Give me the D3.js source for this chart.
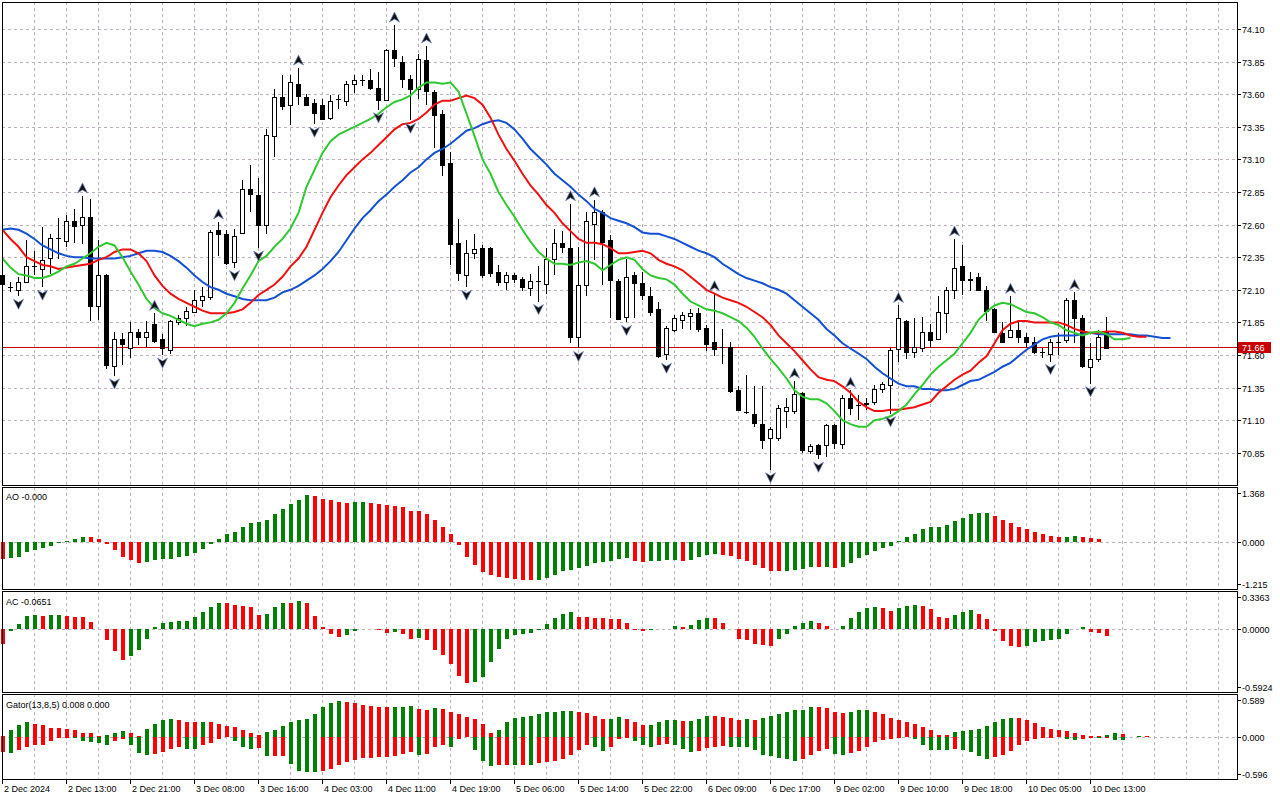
<!DOCTYPE html>
<html>
<head>
<meta charset="utf-8">
<script src="https://cdn.jsdelivr.net/npm/d3@7"></script>
<style>
body { margin:0; background:#fff; }
text { font-family: "Liberation Sans", Arial, sans-serif; font-size: 9px; fill: #000; }
</style>
</head>
<body>
<div id="chart"></div>
<script>
// hourly candles, 2 Dec 2024 .. 10 Dec 2024
const timeLabels = ["2 Dec 2024","2 Dec 13:00","2 Dec 21:00","3 Dec 08:00","3 Dec 16:00","4 Dec 03:00",
  "4 Dec 11:00","4 Dec 19:00","5 Dec 06:00","5 Dec 14:00","5 Dec 22:00","6 Dec 09:00","6 Dec 17:00",
  "9 Dec 02:00","9 Dec 10:00","9 Dec 18:00","10 Dec 05:00","10 Dec 13:00"]
const priceTicks = [74.10,73.85,73.60,73.35,73.10,72.85,72.60,72.35,72.10,71.85,71.60,71.35,71.10,70.85]
const aoTicks = [1.368, 0, -1.215]
const acTicks = [0.3363, 0, -0.5924]
const gatorTicks = [0.589, 0, -0.596]
const lastPrice = 71.66
const paneTitles = ["AO -0.000", "AC -0.0651", "Gator(13,8,5) 0.008 0.000"]

const openP = [72.21,72.12,72.10,72.16,72.28,72.26,72.35,72.50,72.48,72.63,
 72.60,72.66,71.97,72.21,71.51,71.72,71.66,71.78,71.74,71.84,
 71.72,71.64,71.85,71.89,71.93,72.02,72.04,72.56,72.53,72.31,
 72.53,72.87,72.83,72.60,73.28,73.58,73.51,73.68,73.58,73.53,
 73.52,73.42,73.56,73.55,73.68,73.71,73.71,73.65,73.56,73.94,
 73.85,73.72,73.64,73.86,73.62,73.45,73.07,72.46,72.21,72.38,
 72.42,72.42,72.24,72.16,72.21,72.18,72.12,72.17,72.15,72.34,
 72.46,72.42,71.74,72.14,72.61,72.70,72.48,72.17,71.89,72.21,
 72.15,72.05,71.95,71.61,71.79,71.87,71.90,71.92,71.81,71.70,
 71.66,71.66,71.33,71.16,71.15,71.07,70.96,70.96,71.17,71.17,
 71.31,70.86,70.91,70.91,71.06,70.92,71.27,71.22,71.23,71.24,
 71.34,71.37,71.64,71.86,71.62,71.66,71.78,71.72,71.92,72.10,
 72.28,72.17,72.20,72.10,71.95,71.77,71.74,71.79,71.74,71.70,
 71.62,71.61,71.70,71.71,72.02,71.88,71.51,71.57,71.78]
const highP = [72.23,72.16,72.20,72.48,72.40,72.58,72.53,72.65,72.67,72.72,
 72.82,72.80,72.48,72.22,71.78,71.77,71.85,71.80,71.86,71.92,
 71.76,71.87,71.91,71.97,72.10,72.12,72.56,72.62,72.56,72.57,
 72.94,73.06,72.96,73.33,73.64,73.75,73.75,73.80,73.60,73.56,
 73.56,73.59,73.59,73.70,73.75,73.75,73.79,73.77,73.95,74.13,
 73.89,73.75,73.91,73.97,73.63,73.48,73.16,72.64,72.48,72.53,
 72.44,72.43,72.29,72.24,72.23,72.20,72.22,72.28,72.42,72.57,
 72.55,72.76,72.43,72.70,72.79,72.71,72.52,72.18,72.34,72.24,
 72.24,72.12,72.01,71.82,71.91,71.93,71.95,71.96,71.83,72.07,
 71.80,71.70,71.36,71.45,71.36,71.36,71.05,71.22,71.27,71.40,
 71.32,70.92,70.92,71.07,71.07,71.29,71.33,71.29,71.27,71.37,
 71.39,71.65,71.98,71.87,71.88,71.89,71.84,72.05,72.12,72.49,
 72.44,72.24,72.23,72.13,71.96,71.85,72.05,71.85,71.77,71.74,
 71.65,71.72,71.77,72.04,72.08,71.91,71.69,71.79,71.89]
const lowP = [72.10,72.08,72.05,72.15,72.21,72.12,72.22,72.34,72.43,72.46,
 72.45,71.86,71.87,71.49,71.44,71.52,71.58,71.68,71.66,71.69,
 71.60,71.61,71.83,71.82,71.92,71.97,72.02,72.36,72.29,72.27,
 72.53,72.70,72.42,72.53,73.12,73.48,73.36,73.52,73.51,73.37,
 73.41,73.40,73.49,73.51,73.61,73.66,73.63,73.48,73.55,73.81,
 73.65,73.40,73.56,73.52,73.19,72.97,72.29,72.17,72.12,72.34,
 72.19,72.20,72.13,72.10,72.15,72.09,72.05,72.01,72.07,72.21,
 72.38,71.69,71.65,72.05,72.33,72.14,71.88,71.87,71.85,71.88,
 72.02,71.90,71.58,71.56,71.78,71.80,71.79,71.78,71.63,71.59,
 71.53,71.31,71.17,71.15,71.05,70.88,70.72,70.94,71.04,71.15,
 70.85,70.84,70.80,70.82,70.88,70.88,71.14,71.10,71.18,71.22,
 71.31,71.15,71.55,71.57,71.58,71.62,71.65,71.72,71.77,72.03,
 72.06,72.09,72.10,71.86,71.77,71.69,71.74,71.69,71.66,71.61,
 71.58,71.55,71.60,71.69,71.69,71.50,71.38,71.55,71.66]
const closeP = [72.14,72.12,72.16,72.28,72.28,72.33,72.50,72.50,72.63,72.59,
 72.66,71.98,72.21,71.52,71.72,71.68,71.78,71.74,71.78,71.71,
 71.65,71.86,71.88,71.94,72.02,72.05,72.54,72.53,72.31,72.51,
 72.87,72.83,72.60,73.29,73.58,73.51,73.69,73.59,73.52,73.45,
 73.41,73.55,73.56,73.68,73.71,73.71,73.65,73.56,73.94,73.88,
 73.72,73.64,73.87,73.62,73.44,73.06,72.45,72.23,72.38,72.41,
 72.21,72.23,72.16,72.21,72.18,72.12,72.17,72.17,72.34,72.46,
 72.43,71.74,72.14,72.63,72.70,72.47,72.17,71.88,72.20,72.15,
 72.06,71.93,71.59,71.81,71.88,71.91,71.92,71.80,71.69,71.65,
 71.66,71.32,71.18,71.16,71.08,70.95,71.03,71.19,71.20,71.30,
 70.87,70.90,70.84,71.06,70.92,71.27,71.19,71.22,71.22,71.34,
 71.38,71.64,71.88,71.62,71.66,71.78,71.72,71.93,72.10,72.27,
 72.17,72.18,72.10,71.94,71.77,71.70,71.79,71.74,71.70,71.62,
 71.62,71.70,71.70,72.02,71.88,71.51,71.57,71.74,71.66]

// Alligator (jaw shifted 8, teeth 5, lips 3 bars ahead)
const jaw = [72.56,72.57,72.56,72.53,72.49,72.44,72.41,72.38,72.36,72.35,
 72.35,72.34,72.34,72.34,72.34,72.35,72.36,72.38,72.40,72.40,
 72.39,72.36,72.32,72.27,72.21,72.16,72.12,72.10,72.07,72.05,
 72.03,72.02,72.02,72.02,72.04,72.08,72.10,72.13,72.17,72.21,
 72.26,72.32,72.39,72.48,72.57,72.65,72.71,72.78,72.83,72.89,
 72.94,73.00,73.04,73.10,73.15,73.18,73.22,73.27,73.32,73.34,
 73.37,73.39,73.40,73.38,73.33,73.26,73.18,73.12,73.06,72.99,
 72.94,72.89,72.83,72.78,72.72,72.69,72.65,72.63,72.61,72.58,
 72.54,72.53,72.53,72.51,72.49,72.46,72.43,72.40,72.38,72.35,
 72.30,72.26,72.22,72.19,72.17,72.15,72.12,72.10,72.07,72.02,
 71.97,71.92,71.87,71.80,71.75,71.69,71.65,71.61,71.57,71.51,
 71.46,71.42,71.38,71.36,71.36,71.34,71.34,71.33,71.33,71.34,
 71.37,71.40,71.41,71.44,71.47,71.51,71.54,71.59,71.64,71.68,
 71.72,71.74,71.75,71.75,71.75,71.76,71.77,71.76,71.76,71.76,
 71.76,71.76,71.75,71.75,71.74,71.73,71.73]
const teeth = [72.56,72.49,72.43,72.35,72.32,72.29,72.28,72.26,72.27,72.28,
 72.29,72.30,72.33,72.35,72.39,72.41,72.41,72.38,72.32,72.21,
 72.13,72.07,72.03,72.00,71.97,71.94,71.92,71.92,71.92,71.93,
 71.95,72.00,72.06,72.10,72.14,72.20,72.28,72.34,72.43,72.56,
 72.69,72.81,72.90,72.98,73.04,73.10,73.15,73.21,73.27,73.33,
 73.37,73.38,73.41,73.46,73.52,73.55,73.55,73.57,73.59,73.57,
 73.52,73.42,73.29,73.18,73.09,72.99,72.90,72.83,72.75,72.69,
 72.61,72.55,72.49,72.46,72.46,72.45,72.42,72.38,72.38,72.39,
 72.40,72.38,72.33,72.30,72.28,72.25,72.20,72.15,72.10,72.07,
 72.04,72.02,72.00,71.97,71.93,71.89,71.83,71.75,71.69,71.63,
 71.56,71.49,71.43,71.41,71.40,71.36,71.31,71.24,71.20,71.17,
 71.17,71.18,71.18,71.19,71.20,71.22,71.24,71.31,71.36,71.41,
 71.45,71.48,71.54,71.59,71.69,71.79,71.84,71.86,71.86,71.85,
 71.85,71.85,71.85,71.83,71.80,71.78,71.77,71.77,71.78,71.78,
 71.77,71.75,71.74,71.74]
const lips = [72.34,72.27,72.22,72.21,72.19,72.19,72.21,72.24,72.28,72.30,
 72.34,72.38,72.43,72.46,72.44,72.35,72.24,72.14,72.03,71.96,
 71.92,71.90,71.87,71.84,71.82,71.84,71.85,71.87,71.92,72.00,
 72.11,72.21,72.32,72.36,72.43,72.49,72.57,72.69,72.89,73.02,
 73.15,73.24,73.29,73.32,73.35,73.38,73.41,73.45,73.50,73.54,
 73.56,73.59,73.65,73.69,73.69,73.68,73.69,73.62,73.45,73.28,
 73.10,72.99,72.85,72.75,72.66,72.56,72.47,72.39,72.34,72.30,
 72.30,72.29,72.31,72.32,72.30,72.25,72.29,72.33,72.35,72.33,
 72.26,72.21,72.19,72.18,72.14,72.07,72.01,71.98,71.95,71.94,
 71.92,71.89,71.86,71.81,71.74,71.65,71.57,71.50,71.42,71.33,
 71.28,71.26,71.26,71.23,71.17,71.10,71.07,71.05,71.05,71.10,
 71.11,71.13,71.17,71.22,71.30,71.37,71.45,71.51,71.56,71.61,
 71.69,71.77,71.87,71.93,71.98,72.00,71.99,71.96,71.93,71.92,
 71.89,71.85,71.83,71.79,71.77,71.75,71.77,71.78,71.76,71.72,
 71.72,71.73]

const fractalUp = [10,19,27,37,49,53,71,74,89,99,106,112,119,126,134]
const fractalDown = [2,5,14,20,29,32,39,47,51,58,67,72,78,83,96,102,111,131,136]

const aoValues = [-0.45,-0.43,-0.38,-0.26,-0.22,-0.17,-0.11,-0.03,0.01,0.06,
 0.12,0.11,0.06,-0.05,-0.22,-0.39,-0.48,-0.55,-0.52,-0.48,
 -0.45,-0.44,-0.39,-0.37,-0.30,-0.19,-0.06,0.06,0.19,0.26,
 0.37,0.48,0.50,0.57,0.72,0.85,0.96,1.08,1.19,1.17,
 1.11,1.08,1.03,1.00,1.01,1.02,1.00,0.98,0.95,0.92,
 0.90,0.80,0.78,0.72,0.55,0.39,0.19,-0.09,-0.39,-0.61,
 -0.78,-0.86,-0.90,-0.94,-0.96,-0.98,-0.99,-0.98,-0.94,-0.85,
 -0.75,-0.72,-0.68,-0.62,-0.55,-0.52,-0.49,-0.45,-0.43,-0.49,
 -0.52,-0.50,-0.49,-0.48,-0.47,-0.49,-0.47,-0.39,-0.34,-0.32,
 -0.33,-0.37,-0.45,-0.49,-0.61,-0.68,-0.75,-0.76,-0.75,-0.73,
 -0.71,-0.65,-0.66,-0.65,-0.68,-0.66,-0.54,-0.43,-0.34,-0.24,
 -0.16,-0.11,0.01,0.11,0.21,0.32,0.37,0.39,0.44,0.52,
 0.62,0.70,0.74,0.75,0.67,0.57,0.47,0.38,0.32,0.26,
 0.21,0.14,0.11,0.12,0.14,0.13,0.09,0.06,-0.0004]
const acValues = [-0.14,-0.025,0.04,0.12,0.13,0.12,0.125,0.13,0.12,0.11,
 0.105,0.065,-0.006,-0.11,-0.21,-0.29,-0.26,-0.20,-0.10,0.01,
 0.047,0.06,0.066,0.07,0.11,0.15,0.20,0.24,0.235,0.215,
 0.21,0.205,0.13,0.14,0.20,0.24,0.235,0.26,0.235,0.12,
 0.01,-0.05,-0.08,-0.06,-0.025,-0.005,-0.006,-0.016,-0.045,-0.035,
 -0.055,-0.10,-0.09,-0.11,-0.20,-0.25,-0.33,-0.44,-0.51,-0.50,
 -0.45,-0.31,-0.19,-0.10,-0.065,-0.047,-0.038,-0.016,0.04,0.095,
 0.14,0.15,0.11,0.108,0.10,0.094,0.093,0.085,0.047,-0.016,
 -0.025,-0.015,-0.003,-0.006,0.02,0.01,0.03,0.075,0.10,0.094,
 0.056,-0.003,-0.094,-0.11,-0.14,-0.15,-0.16,-0.10,-0.047,0.02,
 0.047,0.066,0.047,0.028,-0.006,0.02,0.094,0.15,0.19,0.197,
 0.188,0.16,0.19,0.206,0.216,0.206,0.18,0.11,0.094,0.13,
 0.15,0.17,0.14,0.085,-0.025,-0.12,-0.16,-0.17,-0.165,-0.13,
 -0.12,-0.11,-0.094,-0.047,-0.006,0.01,-0.028,-0.038,-0.0651]
const gatorUpper = [0.02,0.106,0.164,0.212,0.178,0.164,0.130,0.128,0.11,0.095,
 0.06,0.05,0.02,0.025,0.05,0.08,0.05,0.02,0.11,0.18,
 0.24,0.25,0.248,0.22,0.218,0.22,0.219,0.19,0.16,0.135,
 0.106,0.05,0.035,0.077,0.106,0.15,0.21,0.24,0.26,0.323,
 0.424,0.48,0.51,0.496,0.48,0.45,0.44,0.424,0.42,0.425,
 0.43,0.435,0.395,0.39,0.41,0.395,0.35,0.32,0.29,0.25,
 0.18,0.05,0.106,0.22,0.265,0.28,0.294,0.323,0.35,0.352,
 0.366,0.37,0.35,0.337,0.294,0.25,0.252,0.28,0.25,0.207,
 0.164,0.166,0.207,0.236,0.238,0.222,0.224,0.25,0.294,0.292,
 0.28,0.265,0.236,0.25,0.236,0.265,0.294,0.323,0.352,0.38,
 0.382,0.424,0.422,0.41,0.352,0.337,0.352,0.38,0.382,0.352,
 0.323,0.265,0.236,0.207,0.178,0.135,0.106,0.034,0.033,0.077,
 0.092,0.093,0.12,0.15,0.207,0.25,0.265,0.263,0.236,0.193,
 0.135,0.12,0.106,0.092,0.063,0.034,0.02,0.01,0.034,0.063,
 0.048,0.005,0.015,0.008]
const gatorLower = [0.207,0.22,0.19,0.135,0.12,0.11,0.06,0.02,0.01,0.02,
 0.058,0.072,0.087,0.11,0.05,0.03,0.12,0.22,0.255,0.24,
 0.207,0.17,0.145,0.165,0.166,0.11,0.082,0.03,0.002,0.05,
 0.135,0.165,0.155,0.27,0.268,0.265,0.385,0.48,0.49,0.50,
 0.48,0.453,0.40,0.356,0.323,0.294,0.293,0.28,0.279,0.265,
 0.236,0.207,0.25,0.236,0.135,0.12,0.135,0.034,0.005,0.178,
 0.337,0.41,0.40,0.399,0.40,0.399,0.40,0.366,0.35,0.337,
 0.308,0.25,0.178,0.12,0.135,0.193,0.135,0.034,0.02,0.063,
 0.12,0.135,0.12,0.106,0.107,0.164,0.207,0.193,0.15,0.135,
 0.134,0.135,0.136,0.137,0.178,0.25,0.265,0.294,0.308,0.337,
 0.308,0.25,0.193,0.164,0.236,0.25,0.22,0.193,0.135,0.072,
 0.048,0.034,0.01,0.005,0.034,0.12,0.178,0.179,0.18,0.164,
 0.178,0.207,0.265,0.308,0.28,0.25,0.193,0.12,0.063,0.034,
 0.02,0.01,0.005,0.034,0.048,0.034,0.01,0.02,0.015,0.048,
 0.049,0.0]

function drawChart(){
    let width = 1280
    let height = 800
    let left = 2, right = 1237
    let panes = {
        main: {top: 2, bottom: 485},
        ao: {top: 487, bottom: 589},
        ac: {top: 591, bottom: 692},
        gator: {top: 694, bottom: 779}
    }
    let gridColor = "#bdb0bd"
    let upColor = "#008000", downColor = "#ff0000"

    let svg = d3.select("#chart")
        .append("svg")
            .attr("width", width)
            .attr("height", height)
            .style("background", "#fff")

    let x = d3.scaleLinear().domain([0, 154]).range([2, 1234])   // 8px per bar
    let yMain = d3.scaleLinear().domain([70.6031, 74.307]).range([485, 2])
    let yAO = d3.scaleLinear().domain([-1.215, 1.368]).range([589, 488.5])
    let yAC = d3.scaleLinear().domain([-0.5924, 0.3363]).range([692, 592.5])
    let yGator = d3.scaleLinear().domain([-0.596, 0.589]).range([779, 695.5])

    // vertical grid
    let gridIdx = d3.range(4, 153, 4)
    Object.values(panes).forEach(function(p){
        svg.append("g").selectAll("line")
            .data(gridIdx)
            .enter()
            .append("line")
                .attr("x1", d => x(d) + 0.5)
                .attr("x2", d => x(d) + 0.5)
                .attr("y1", p.top)
                .attr("y2", p.bottom)
                .attr("stroke", gridColor)
                .attr("stroke-dasharray", "3,3")
                .attr("shape-rendering", "crispEdges")
    })
    // horizontal grid (main)
    svg.append("g").selectAll("line")
        .data(priceTicks)
        .enter()
        .append("line")
            .attr("x1", left)
            .attr("x2", right)
            .attr("y1", d => Math.round(yMain(d)) + 0.5)
            .attr("y2", d => Math.round(yMain(d)) + 0.5)
            .attr("stroke", gridColor)
            .attr("stroke-dasharray", "3,3")
            .attr("shape-rendering", "crispEdges")
    // zero lines in sub windows
    ;[yAO, yAC, yGator].forEach(function(s){
        svg.append("line")
            .attr("x1", left).attr("x2", right)
            .attr("y1", Math.round(s(0)) + 0.5).attr("y2", Math.round(s(0)) + 0.5)
            .attr("stroke", gridColor)
            .attr("stroke-dasharray", "3,3")
            .attr("shape-rendering", "crispEdges")
    })

    // last price line
    svg.append("line")
        .attr("x1", left).attr("x2", right)
        .attr("y1", Math.round(yMain(lastPrice)) + 0.5)
        .attr("y2", Math.round(yMain(lastPrice)) + 0.5)
        .attr("stroke", "#c40000")
        .attr("shape-rendering", "crispEdges")

    // candles
    let candles = openP.map(function(o, i){
        return {i: i, o: o, h: highP[i], l: lowP[i], c: closeP[i]}
    })
    let cg = svg.append("g").attr("shape-rendering", "crispEdges")
    cg.selectAll(".wick")
        .data(candles)
        .enter()
        .append("line")
            .attr("class", "wick")
            .attr("x1", d => x(d.i) + 0.5)
            .attr("x2", d => x(d.i) + 0.5)
            .attr("y1", d => yMain(d.h))
            .attr("y2", d => yMain(d.l))
            .attr("stroke", "#000")
    cg.selectAll(".body")
        .data(candles.filter(d => Math.abs(d.o - d.c) > 0.004))
        .enter()
        .append("rect")
            .attr("class", "body")
            .attr("x", d => x(d.i) - 1.5)
            .attr("width", 4)
            .attr("y", d => Math.round(yMain(Math.max(d.o, d.c))) + 0.5)
            .attr("height", d => Math.max(1, Math.round(Math.abs(yMain(d.o) - yMain(d.c)))))
            .attr("fill", d => d.c > d.o ? "#fff" : "#000")
            .attr("stroke", "#000")
    cg.selectAll(".doji")
        .data(candles.filter(d => Math.abs(d.o - d.c) <= 0.004))
        .enter()
        .append("line")
            .attr("class", "doji")
            .attr("x1", d => x(d.i) - 2)
            .attr("x2", d => x(d.i) + 3)
            .attr("y1", d => Math.round(yMain(d.c)) + 0.5)
            .attr("y2", d => Math.round(yMain(d.c)) + 0.5)
            .attr("stroke", "#000")

    // alligator
    let line = d3.line()
        .x((d, i) => x(i) + 0.5)
        .y(d => yMain(d))
    svg.append("path")
        .attr("fill", "none").attr("stroke", "#1450d2").attr("stroke-width", 2)
        .attr("d", line(jaw))
    svg.append("path")
        .attr("fill", "none").attr("stroke", "#f01010").attr("stroke-width", 2)
        .attr("d", line(teeth))
    svg.append("path")
        .attr("fill", "none").attr("stroke", "#30c830").attr("stroke-width", 2)
        .attr("d", line(lips))

    // fractals
    svg.selectAll(".fUp")
        .data(fractalUp)
        .enter()
        .append("path")
            .attr("class", "fUp")
            .attr("transform", d => "translate(" + (x(d) + 0.5) + "," + (yMain(highP[d]) - 8) + ")")
            .attr("d", "M0,-5L5,5L0,2L-5,5Z")
            .attr("fill", "#111")
            .attr("stroke", "#6f86c0")
            .attr("stroke-width", 0.7)
    svg.selectAll(".fDown")
        .data(fractalDown)
        .enter()
        .append("path")
            .attr("class", "fDown")
            .attr("transform", d => "translate(" + (x(d) + 0.5) + "," + (yMain(lowP[d]) + 8) + ")")
            .attr("d", "M0,5L5,-5L0,-2L-5,-5Z")
            .attr("fill", "#111")
            .attr("stroke", "#6f86c0")
            .attr("stroke-width", 0.7)

    // histograms
    function drawBars(values, scale, sign){
        let g = svg.append("g").attr("shape-rendering", "crispEdges")
        g.selectAll("rect")
            .data(values)
            .enter()
            .append("rect")
                .attr("x", (d, i) => x(i) - 1.5)
                .attr("width", 4)
                .attr("y", d => Math.min(scale(0), scale(sign * d)))
                .attr("height", d => Math.abs(scale(sign * d) - scale(0)))
                .attr("fill", function(d, i){
                    let prev = i > 0 ? values[i - 1] : d
                    return d > prev ? upColor : downColor
                })
    }
    drawBars(aoValues, yAO, 1)
    drawBars(acValues, yAC, 1)
    drawBars(gatorUpper, yGator, 1)
    drawBars(gatorLower, yGator, -1)

    // frames
    Object.values(panes).forEach(function(p){
        svg.append("rect")
            .attr("x", left + 0.5)
            .attr("y", p.top + 0.5)
            .attr("width", right - left)
            .attr("height", p.bottom - p.top)
            .attr("fill", "none")
            .attr("stroke", "#000")
            .attr("shape-rendering", "crispEdges")
    })

    // price axis
    let axisG = svg.append("g")
    priceTicks.forEach(function(p){
        let yy = Math.round(yMain(p)) + 0.5
        axisG.append("line")
            .attr("x1", right).attr("x2", right + 4)
            .attr("y1", yy).attr("y2", yy)
            .attr("stroke", "#000").attr("shape-rendering", "crispEdges")
        axisG.append("text")
            .attr("x", right + 5)
            .attr("y", yy + 3.5)
            .text(p.toFixed(2))
    })
    function subAxis(ticks, scale, pane, digits){
        ticks.forEach(function(t){
            let yy = Math.round(Math.min(Math.max(scale(t), pane.top + 6), pane.bottom - 5)) + 0.5
            axisG.append("line")
                .attr("x1", right).attr("x2", right + 4)
                .attr("y1", yy).attr("y2", yy)
                .attr("stroke", "#000").attr("shape-rendering", "crispEdges")
            axisG.append("text")
                .attr("x", right + 5)
                .attr("y", yy + 3.5)
                .text(t.toFixed(digits))
        })
    }
    subAxis(aoTicks, yAO, panes.ao, 3)
    subAxis(acTicks, yAC, panes.ac, 4)
    subAxis(gatorTicks, yGator, panes.gator, 3)

    // last price label
    let ly = Math.round(yMain(lastPrice))
    svg.append("rect")
        .attr("x", right + 1).attr("y", ly - 5)
        .attr("width", 33).attr("height", 11)
        .attr("fill", "#c80000")
    svg.append("text")
        .attr("x", right + 5).attr("y", ly + 4)
        .style("fill", "#fff")
        .text(lastPrice.toFixed(2))

    // time axis
    timeLabels.forEach(function(t, k){
        let xx = x(k * 8)
        svg.append("line")
            .attr("x1", xx + 0.5).attr("x2", xx + 0.5)
            .attr("y1", 779).attr("y2", 784)
            .attr("stroke", "#000").attr("shape-rendering", "crispEdges")
        svg.append("text")
            .attr("x", xx + 2)
            .attr("y", 792)
            .text(t)
    })

    // sub window titles
    let titleY = [500, 605, 708]
    paneTitles.forEach(function(t, k){
        svg.append("text").attr("x", 6).attr("y", titleY[k]).text(t)
    })
}
drawChart()
</script>
</body>
</html>
